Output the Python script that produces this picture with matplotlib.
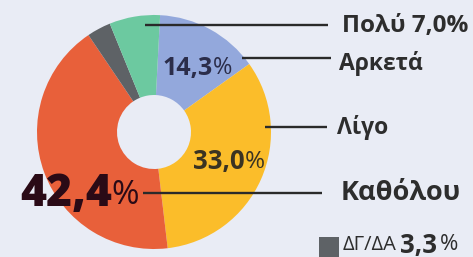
import matplotlib.pyplot as plt

labels = ['Αρκετά', 'Λίγο', 'Καθόλου', 'ΔΓ/ΔΑ', 'Πολύ']
values = [14.3, 33.0, 42.4, 3.3, 7.0]
colors = ['#93a8dc', '#fbbd2a', '#e8603a', '#5e6266', '#6cc9a0']


def pct(v):
    return f'{v:.1f}'.replace('.', ',')


W, H = 473, 257
fig = plt.figure(figsize=(W / 100, H / 100), dpi=100)
fig.patch.set_facecolor('#e9ecf5')
ax = fig.add_axes([0, 0, 1, 1])

cx, cy, r = 154, H - 132, 117
ax.pie(values, colors=colors, startangle=87, counterclock=False,
       center=(cx, cy), radius=r, frame=True,
       wedgeprops=dict(width=r - 37, linewidth=0))
ax.set_xlim(0, W)
ax.set_ylim(0, H)
ax.axis('off')

font = 'Open Sans'
line_kw = dict(color='#2a2a2a', lw=1.7, solid_capstyle='butt')

# leader lines (y in image pixels from top)
ax.plot([145, 328], [H - 25, H - 25], **line_kw)
ax.plot([242, 331], [H - 58, H - 58], **line_kw)
ax.plot([265, 327], [H - 127, H - 127], **line_kw)
ax.plot([143, 322], [H - 193, H - 193], **line_kw)

txt = '#2d2d2d'
ax.text(342, H - 26, f'{labels[4]} {pct(values[4])}%', fontsize=17.5,
        fontweight='bold', family=font, color=txt, va='center', ha='left')
ax.text(339, H - 63, labels[0], fontsize=16.5, fontweight='bold',
        family=font, color=txt, va='center', ha='left')
ax.text(337, H - 128, labels[1], fontsize=16.5, fontweight='bold',
        family=font, color=txt, va='center', ha='left')
ax.text(341, H - 193, labels[2], fontsize=19.5, fontweight='bold',
        family=font, color=txt, va='center', ha='left')

# inner percentage labels
ax.text(213, H - 68, pct(values[0]), fontsize=18, fontweight='bold',
        family=font, color='#2b2d4a', va='center', ha='right')
ax.text(213, H - 68, '%', fontsize=17, family=font, color='#2b2d4a',
        va='center', ha='left')
ax.text(245, H - 162, pct(values[1]), fontsize=18.5, fontweight='bold',
        family=font, color='#3a3322', va='center', ha='right')
ax.text(245, H - 162, '%', fontsize=17.5, family=font, color='#3a3322',
        va='center', ha='left')
ax.text(112, H - 195, pct(values[2]), fontsize=32, fontweight='heavy',
        family=font, color='#2a0a16', va='center', ha='right')
ax.text(111, H - 195, '%', fontsize=24, family=font, color='#2a0a16',
        va='center', ha='left')

# no-answer legend
ax.add_patch(plt.Rectangle((319, H - 257), 20, 20, color=colors[3], lw=0))
ax.text(343, H - 245, labels[3], fontsize=14.5, family=font, color=txt,
        va='center', ha='left')
ax.text(400, H - 245, pct(values[3]), fontsize=18.5, fontweight='bold',
        family=font, color=txt, va='center', ha='left')
ax.text(440, H - 245, '%', fontsize=16, family=font, color=txt,
        va='center', ha='left')

fig.savefig('out.png', dpi=100, facecolor=fig.get_facecolor())
